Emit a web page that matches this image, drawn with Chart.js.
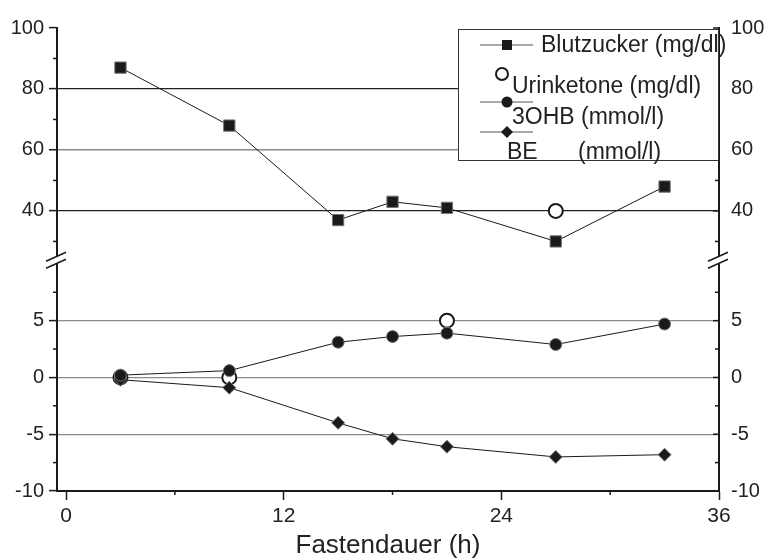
<!DOCTYPE html>
<html lang="de">
<head>
<meta charset="UTF-8">
<title>Fastendauer</title>
<script src="https://cdn.jsdelivr.net/npm/chart.js"></script>
<style>
  body { margin: 0; background: #fff; }
  canvas { display: block; }
</style>
</head>
<body>
<canvas id="chart" width="766" height="559"></canvas>
<script>
// data
const hours = [3, 9, 15, 18, 21, 27, 33];
const blutzucker = [87, 68, 37, 43, 41, 30, 48];     // mg/dl, upper panel
const ohb = [0.2, 0.6, 3.1, 3.6, 3.9, 2.9, 4.7];     // mmol/l, lower panel
const be = [-0.2, -0.9, -4.0, -5.4, -6.1, -7.0, -6.8]; // mmol/l, lower panel
const ketoneHoursLow = [3, 9, 21];
const ketoneLow = [0, 0, 5];
const ketoneHoursHigh = [27];
const ketoneHigh = [40];

const xTicks = [0, 6, 12, 18, 24, 30, 36];
const xMajor = [0, 12, 24, 36];
const topTicks = [30, 40, 50, 60, 70, 80, 90, 100];
const topMajor = [40, 60, 80, 100];
const lowTicks = [-10, -7.5, -5, -2.5, 0, 2.5, 5, 7.5];
const lowMajor = [-10, -5, 0, 5];

const pts = (xs, ys) => xs.map((x, i) => ({ x: x, y: ys[i] }));
const FONT = 'Liberation Sans, Arial, sans-serif';
const INK = '#1a1a1a';

function setTicks(list) {
  return s => { s.ticks = list.map(v => ({ value: v })); };
}

function yScale(stack, pos, min, max, ticks, major, weight, grid) {
  return {
    type: 'linear', stack: stack, stackWeight: weight, position: pos,
    min: min, max: max,
    afterBuildTicks: setTicks(ticks),
    afterFit: s => { s.width = pos === 'left' ? 57 : 47; },
    border: { color: INK, width: 2 },
    grid: {
      drawOnChartArea: grid,
      drawTicks: pos === 'left',
      tickLength: 8,
      tickWidth: 1.5,
      color: c => {
        const v = c.tick && c.tick.value;
        if (v === 80 || v === 40) return '#222';
        if (v === 60 || v === 5 || v === 0 || v === -5) return '#8a8a8a';
        return 'rgba(0,0,0,0)';
      },
      lineWidth: c => (c.tick && c.tick.value === 60) ? 1.5 : 1.2,
      tickColor: c => (c.tick && major.includes(c.tick.value)) ? INK : 'rgba(0,0,0,0)'
    },
    ticks: {
      font: { family: FONT, size: 20 }, color: '#222',
      autoSkip: false,
      padding: pos === 'left' ? 5 : 12,
      callback: v => major.includes(v) ? String(v) : ''
    }
  };
}

// minor tick marks, axis breaks and the legend box
const decor = {
  id: 'decor',
  afterDraw(chart) {
    const ctx = chart.ctx;
    const s = chart.scales;
    ctx.save();
    ctx.strokeStyle = INK;
    ctx.lineWidth = 1.5;
    // left minor ticks
    [['yTop', topTicks, topMajor], ['yLow', lowTicks, lowMajor]].forEach(([id, all, maj]) => {
      const sc = s[id];
      all.filter(v => !maj.includes(v)).forEach(v => {
        const y = sc.getPixelForValue(v);
        ctx.beginPath(); ctx.moveTo(sc.right - 4, y); ctx.lineTo(sc.right, y); ctx.stroke();
      });
    });
    // right ticks, pointing inward
    [['yTopR', topTicks, topMajor], ['yLowR', lowTicks, lowMajor]].forEach(([id, all, maj]) => {
      const sc = s[id];
      all.forEach(v => {
        const y = sc.getPixelForValue(v);
        const len = maj.includes(v) ? 6 : 4;
        ctx.beginPath(); ctx.moveTo(sc.left, y); ctx.lineTo(sc.left - len, y); ctx.stroke();
      });
    });
    // x minor ticks
    const xs = s.x;
    xTicks.filter(v => !xMajor.includes(v)).forEach(v => {
      const x = xs.getPixelForValue(v);
      ctx.beginPath(); ctx.moveTo(x, xs.top); ctx.lineTo(x, xs.top + 4); ctx.stroke();
    });
    // axis breaks
    const b = s.yTop.bottom;
    [s.yTop.right, s.yTopR.left].forEach(ax => {
      ctx.fillStyle = '#fff';
      ctx.fillRect(ax - 2, b - 2, 4, 7);
      ctx.strokeStyle = INK;
      ctx.lineWidth = 1.5;
      ctx.beginPath();
      ctx.moveTo(ax - 11, b + 3); ctx.lineTo(ax + 9, b - 6);
      ctx.moveTo(ax - 11, b + 10); ctx.lineTo(ax + 9, b + 1);
      ctx.stroke();
    });

    // legend
    const L = 458, T = 29, R = chart.chartArea.right, B = 160;
    ctx.fillStyle = '#fff';
    ctx.fillRect(L, T, R - L, B - T);
    ctx.strokeStyle = '#333';
    ctx.lineWidth = 1;
    ctx.strokeRect(L + 0.5, T + 0.5, R - L - 1, B - T);
    const sample = (y) => {
      ctx.strokeStyle = '#555'; ctx.lineWidth = 1;
      ctx.beginPath(); ctx.moveTo(480, y); ctx.lineTo(533, y); ctx.stroke();
    };
    ctx.fillStyle = INK;
    sample(45);
    ctx.fillRect(502, 40, 10, 10);
    sample(102);
    ctx.beginPath(); ctx.arc(507, 102, 5.5, 0, Math.PI * 2); ctx.fill();
    sample(132);
    ctx.beginPath();
    ctx.moveTo(507 - 6, 132); ctx.lineTo(507, 126); ctx.lineTo(507 + 6, 132); ctx.lineTo(507, 138);
    ctx.closePath(); ctx.fill();
    ctx.fillStyle = '#fff'; ctx.strokeStyle = INK; ctx.lineWidth = 2;
    ctx.beginPath(); ctx.arc(502, 74, 6, 0, Math.PI * 2); ctx.fill(); ctx.stroke();

    ctx.fillStyle = '#222';
    ctx.font = '23px ' + FONT;
    ctx.textBaseline = 'middle';
    ctx.textAlign = 'left';
    ctx.fillText('Blutzucker (mg/dl)', 541, 46);
    ctx.fillText('Urinketone (mg/dl)', 512, 87);
    ctx.fillText('3OHB (mmol/l)', 512, 118);
    ctx.fillText('BE', 507, 153);
    ctx.fillText('(mmol/l)', 578, 153);
    ctx.restore();
  }
};

const markerBase = {
  borderColor: INK, borderWidth: 1, showLine: true,
  pointBackgroundColor: INK, pointBorderColor: '#777', pointBorderWidth: 1,
  pointHoverRadius: 0, order: 1
};

new Chart(document.getElementById('chart'), {
  type: 'scatter',
  data: {
    datasets: [
      Object.assign({}, markerBase, {
        label: 'Blutzucker (mg/dl)', yAxisID: 'yTop',
        data: pts(hours, blutzucker), pointStyle: 'rect', pointRadius: 8
      }),
      Object.assign({}, markerBase, {
        label: '3OHB (mmol/l)', yAxisID: 'yLow',
        data: pts(hours, ohb), pointStyle: 'circle', pointRadius: 6
      }),
      Object.assign({}, markerBase, {
        label: 'BE (mmol/l)', yAxisID: 'yLow',
        data: pts(hours, be), pointStyle: 'rectRot', pointRadius: 6.5
      }),
      {
        label: 'Urinketone (mg/dl)', yAxisID: 'yLow', showLine: false,
        data: pts(ketoneHoursLow, ketoneLow), pointStyle: 'circle', pointRadius: 7,
        pointBackgroundColor: '#fff', pointBorderColor: INK, pointBorderWidth: 2, order: 5
      },
      {
        label: 'Urinketone (mg/dl)', yAxisID: 'yTop', showLine: false,
        data: pts(ketoneHoursHigh, ketoneHigh), pointStyle: 'circle', pointRadius: 7,
        pointBackgroundColor: '#fff', pointBorderColor: INK, pointBorderWidth: 2, order: 5
      }
    ]
  },
  options: {
    responsive: false,
    devicePixelRatio: 1,
    animation: false,
    layout: { padding: { top: 28, left: 0, right: 0, bottom: 0 } },
    plugins: { legend: { display: false }, tooltip: { enabled: false } },
    scales: {
      x: {
        type: 'linear', position: 'bottom', min: -0.5, max: 36,
        afterBuildTicks: setTicks(xTicks),
        afterFit: s => { s.height = 68; },
        border: { color: INK, width: 2 },
        grid: {
          drawOnChartArea: false, tickLength: 9, tickWidth: 1.5,
          tickColor: c => (c.tick && xMajor.includes(c.tick.value)) ? INK : 'rgba(0,0,0,0)'
        },
        ticks: {
          font: { family: FONT, size: 21 }, color: '#222', padding: 4, maxRotation: 0,
          autoSkip: false,
          callback: v => xMajor.includes(v) ? String(v) : ''
        },
        title: {
          display: true, text: 'Fastendauer (h)', color: '#222',
          font: { family: FONT, size: 26, lineHeight: 1 }, padding: { top: 0, bottom: 0 }
        }
      },
      // left boxes are laid out in reverse order, so the lower panel comes first
      yLow: yScale('left', 'left', -10, 10.5, lowTicks, lowMajor, 232.3, true),
      yTop: yScale('left', 'left', 24.5, 100, topTicks, topMajor, 229.7, true),
      yTopR: yScale('right', 'right', 24.5, 100, topTicks, topMajor, 229.7, false),
      yLowR: yScale('right', 'right', -10, 10.5, lowTicks, lowMajor, 232.3, false)
    }
  },
  plugins: [decor]
});
</script>
</body>
</html>
